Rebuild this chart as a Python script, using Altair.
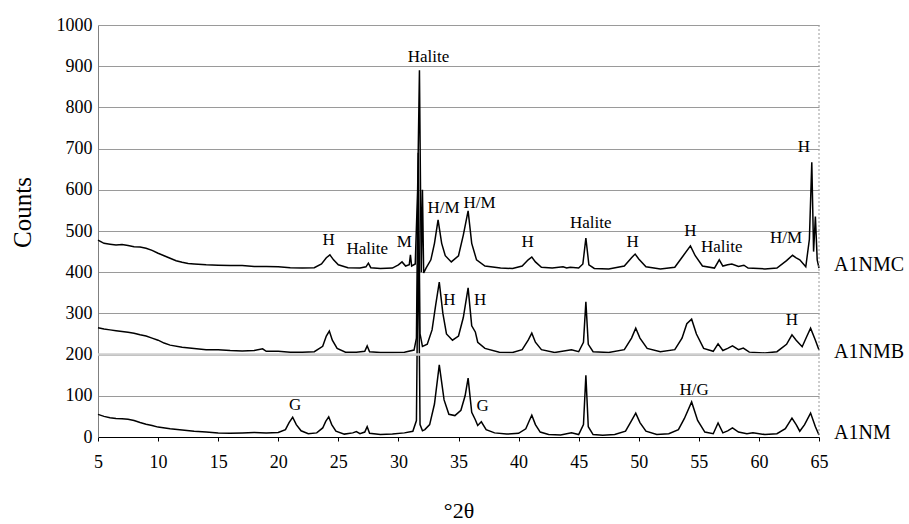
import altair as alt
import pandas as pd

FONT = "Liberation Serif"

# ---- A1NM (bottom trace) ----
nm_x = [5.0, 5.5, 6.0, 6.5, 7.0, 7.5, 8.0, 8.5, 9.0, 9.5, 10.0, 11.0, 12.0, 13.0, 14.0, 15.0, 16.0, 17.0, 18.0, 19.0,
        20.0, 20.6, 20.9, 21.2, 21.5, 21.9, 22.5, 23.2, 23.7, 23.95, 24.2, 24.45, 24.8, 25.5, 26.2, 26.5, 26.8, 27.2,
        27.4, 27.6, 28.5, 29.5, 30.5, 31.2, 31.5, 31.65, 31.8, 32.0, 32.2, 32.6, 33.0, 33.4, 33.8, 34.2, 34.7, 35.2,
        35.55, 35.8, 36.1, 36.4, 36.6, 36.9, 37.3, 38.0, 39.0, 40.0, 40.6, 40.9, 41.1, 41.4, 41.8, 42.5, 43.5, 44.4,
        45.0, 45.4, 45.6, 45.8, 46.2, 47.0, 48.0, 48.9, 49.4, 49.75, 50.1, 50.6, 51.5, 52.5, 53.3, 53.8, 54.4, 54.9,
        55.5, 56.2, 56.6, 57.0, 57.4, 57.8, 58.3, 59.0, 59.5, 60.5, 61.5, 62.2, 62.75, 63.1, 63.4, 63.8, 64.3, 64.7, 65.0]
nm_y = [55, 50, 47, 45, 44, 43, 40, 35, 31, 28, 24, 20, 17, 14, 12, 10, 9, 10, 11, 10,
        11, 18, 35, 48, 30, 15, 8, 10, 22, 38, 49, 30, 14, 7, 10, 13, 8, 12,
        25, 9, 6, 7, 10, 14, 40, 500, 30, 15, 18, 30, 80, 175, 90, 55, 52, 65,
        100, 143, 60, 42, 28, 37, 18, 10, 7, 9, 20, 40, 53, 30, 12, 6, 5, 10,
        6, 30, 150, 25, 6, 4, 6, 14, 40, 58, 35, 14, 6, 8, 18, 45, 85, 40,
        12, 8, 34, 10, 15, 22, 12, 8, 10, 6, 8, 20, 46, 30, 14, 30, 58, 25, 5]

# ---- A1NMB (middle trace) ----
nmb_x = [5.0, 5.5, 6.0, 6.5, 7.0, 7.5, 8.0, 8.5, 9.0, 9.5, 10.0, 10.5, 11.0, 12.0, 13.0, 14.0, 15.0, 16.0, 17.0, 18.0,
         18.7, 19.0, 20.0, 21.0, 22.0, 23.0, 23.7, 24.0, 24.25, 24.5, 24.9, 25.6, 26.5, 27.2, 27.4, 27.6, 28.5, 29.5,
         30.5, 31.3, 31.5, 31.65, 31.8, 32.0, 32.4, 32.8, 33.1, 33.4, 33.7, 34.0, 34.5, 35.0, 35.4, 35.8, 36.1, 36.4,
         36.6, 37.2, 38.4, 39.5, 40.3, 40.8, 41.1, 41.4, 41.9, 43.0, 44.4, 45.0, 45.4, 45.6, 45.8, 46.2, 47.5, 48.8,
         49.4, 49.75, 50.1, 50.7, 51.8, 53.0, 53.6, 54.0, 54.4, 54.8, 55.4, 56.2, 56.6, 57.0, 57.4, 57.8, 58.3, 58.7,
         59.2, 60.5, 61.5, 62.3, 62.75, 63.1, 63.6, 64.0, 64.3, 64.7, 65.0]
nmb_y = [265, 262, 260, 258, 256, 254, 252, 248, 245, 240, 235, 228, 223, 218, 215, 212, 212, 210, 209, 210,
         214, 208, 208, 206, 206, 207, 220, 245, 257, 235, 215, 206, 206, 208, 221, 207, 205, 205,
         206, 211, 240, 690, 250, 220, 225, 260, 320, 376, 300, 250, 235, 245, 290, 362, 270, 255,
         230, 215, 206, 205, 212, 235, 252, 230, 212, 205, 212, 207, 230, 328, 225, 207, 205, 212,
         240, 264, 240, 215, 207, 212, 240, 275, 286, 250, 215, 208, 226, 210, 215, 221, 212, 216,
         206, 204, 207, 225, 248, 235, 219, 245, 264, 235, 211]

# ---- A1NMC (top trace) ----
nmc_x = [5.0, 5.5, 6.0, 6.5, 7.0, 7.5, 8.0, 8.5, 9.0, 9.5, 10.0, 10.5, 11.0, 11.5, 12.0, 12.5, 13.0, 14.0, 15.0, 16.0,
         17.0, 18.0, 19.0, 20.0, 21.0, 22.0, 23.0, 23.6, 24.0, 24.3, 24.6, 25.0, 25.8, 26.8, 27.3, 27.5, 27.7, 28.5,
         29.5, 30.0, 30.3, 30.6, 30.9, 31.0, 31.1, 31.4, 31.6, 31.75, 31.9, 32.0, 32.1, 32.3, 32.7, 33.0, 33.3, 33.6,
         33.9, 34.4, 35.0, 35.4, 35.8, 36.1, 36.5, 37.2, 38.5, 39.5, 40.3, 40.8, 41.1, 41.4, 41.9, 42.8, 43.7, 44.0,
         44.3, 45.0, 45.35, 45.6, 45.85, 46.3, 47.5, 48.8, 49.4, 49.7, 50.0, 50.6, 51.8, 53.0, 53.7, 54.3, 54.7, 55.3,
         56.3, 56.7, 57.0, 57.4, 57.75, 58.3, 58.75, 59.1, 60.5, 61.5, 62.3, 62.8, 63.1, 63.4, 63.9, 64.2, 64.4, 64.55,
         64.7, 64.85, 65.0]
nmc_y = [478, 470, 468, 466, 467, 465, 462, 461, 458, 453, 446, 440, 434, 428, 424, 421, 420, 418, 417, 416,
         416, 414, 414, 413, 411, 410, 411, 420, 435, 442, 430, 418, 411, 410, 413, 422, 411, 409,
         410, 418, 425, 415, 418, 442, 415, 420, 600, 890, 400, 600, 398, 410, 430, 470, 527, 470,
         440, 425, 440, 490, 549, 470, 430, 415, 410, 409, 415, 430, 437, 425, 412, 410, 413, 410,
         412, 410, 420, 483, 418, 409, 408, 415, 435, 444, 432, 413, 408, 412, 440, 464, 440, 415,
         410, 430, 415, 418, 420, 414, 417, 410, 408, 410, 428, 441, 435, 430, 413, 480, 667, 450,
         535, 430, 410]

# ---- peak annotations ----
ann_text = ["Halite", "H", "Halite", "M", "H/M", "H/M", "H", "Halite", "H", "H", "Halite", "H/M", "H",
            "H", "H", "H",
            "G", "G", "H/G"]
ann_x = [32.5, 24.2, 27.4, 30.5, 33.75, 36.75, 40.75, 46.0, 49.5, 54.3, 56.9, 62.25, 63.75,
         34.25, 36.8, 62.75,
         21.4, 37.0, 54.6]
ann_y = [922, 478, 456, 474, 555, 568, 473, 520, 473, 500, 461, 483, 704,
         333, 333, 284,
         78, 75, 114]

# ---- series labels ----
series_names = ["A1NMC", "A1NMB", "A1NM"]
series_label_x = [66.25, 66.25, 66.25]
series_label_y = [417, 206, 10]

frames = []
for name, xs, ys in [("A1NM", nm_x, nm_y), ("A1NMB", nmb_x, nmb_y), ("A1NMC", nmc_x, nmc_y)]:
    frames.append(pd.DataFrame({"theta": xs, "counts": ys, "series": name}))
df = pd.concat(frames, ignore_index=True)
df["order"] = df.index

ann_df = pd.DataFrame({"label": ann_text, "x": ann_x, "y": ann_y})
lab_df = pd.DataFrame({"label": series_names, "x": series_label_x, "y": series_label_y})

xscale = alt.Scale(domain=[5, 65], nice=False, zero=False)
yscale = alt.Scale(domain=[0, 1000], nice=False)

x_axis = alt.Axis(values=list(range(5, 70, 5)), title="°2θ", grid=False, domainColor="black",
                  tickColor="black", tickSize=4, labelPadding=12, labelFont=FONT, labelFontSize=18,
                  labelColor="black", titleFont=FONT, titleFontSize=22, titleFontWeight="normal",
                  titleColor="black", titleY=73, titleBaseline="middle", labelFlush=False, format="d")
y_axis = alt.Axis(values=list(range(0, 1100, 100)), title="Counts", grid=True, gridColor="#9a9a9a",
                  gridWidth=1, domainColor="#808080", ticks=False, labelPadding=6, labelFont=FONT,
                  labelFontSize=18, labelColor="black", titleFont=FONT, titleFontSize=25,
                  titleFontWeight="normal", titleColor="black", titleX=-76, titleY=187,
                  titleBaseline="middle", titleAngle=270, format="d")

lines = alt.Chart(df).mark_line(color="black", strokeWidth=1.5).encode(
    x=alt.X("theta:Q", scale=xscale, axis=x_axis),
    y=alt.Y("counts:Q", scale=yscale, axis=y_axis),
    detail="series:N",
    order="order:Q",
)

grid200 = alt.Chart(pd.DataFrame({"v": [200]})).mark_rule(color="#cfcfcf", strokeWidth=2.5).encode(
    y=alt.Y("v:Q", scale=yscale)
)

right_border = alt.Chart(pd.DataFrame({"v": [65]})).mark_rule(
    color="#9a9a9a", strokeDash=[2, 2], strokeWidth=1
).encode(x=alt.X("v:Q", scale=xscale))

ann = alt.Chart(ann_df).mark_text(font=FONT, fontSize=17, color="black", align="center",
                                  baseline="middle").encode(
    x=alt.X("x:Q", scale=xscale), y=alt.Y("y:Q", scale=yscale), text="label:N"
)

labs = alt.Chart(lab_df).mark_text(font=FONT, fontSize=20, color="black", align="left",
                                   baseline="middle").encode(
    x=alt.X("x:Q", scale=xscale), y=alt.Y("y:Q", scale=yscale), text="label:N"
)

chart = alt.layer(lines, grid200, right_border, ann, labs).properties(
    width=721, height=412,
    autosize=alt.AutoSizeParams(type="none"),
    padding={"left": 98, "top": 25, "right": 90, "bottom": 87},
    background="white",
).configure(font=FONT).configure_view(stroke=None).configure_axis(
    labelFont=FONT, titleFont=FONT
)

chart.save("out.html", embed_options={"renderer": "svg", "actions": False})
